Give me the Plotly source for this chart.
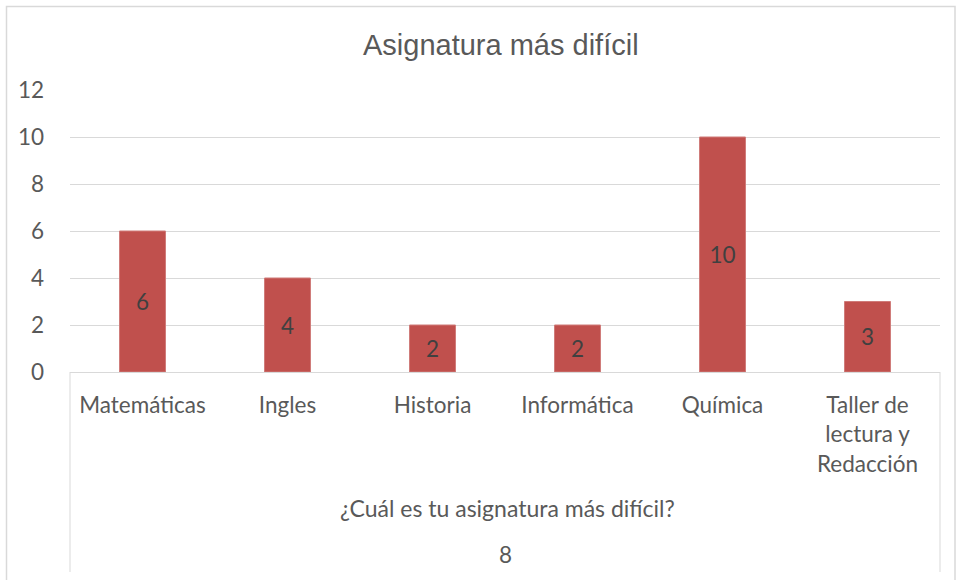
import plotly.graph_objects as go

categories = ["Matemáticas", "Ingles", "Historia", "Informática", "Química",
              "Taller de<br>lectura y<br>Redacción"]
values = [6, 4, 2, 2, 10, 3]
y_ticks = [0, 2, 4, 6, 8, 10, 12]
title_text = "Asignatura más difícil"
group_label = "¿Cuál es tu asignatura más difícil?"
outer_label = "8"

W, H = 956, 580
L, R, T, B = 70, 16, 90, 208
pw, ph = W - L - R, H - T - B

def px(x):
    return (x - L) / pw

def py(y):
    return (H - B - y) / ph

BODY = "Lato, Calibri, Carlito, sans-serif"
TXT = "#595959"
GRID = "#D9D9D9"
FS = 22.5

fig = go.Figure(go.Bar(
    x=categories, y=values, text=values,
    textposition="inside", insidetextanchor="middle",
    textfont=dict(family=BODY, size=FS, color="#404040"),
    marker=dict(color="#C0504D", line=dict(color="#CF7B79", width=1)),
    width=0.317, hoverinfo="skip",
))

fig.update_layout(
    width=W, height=H,
    margin=dict(l=L, r=R, t=T, b=B),
    paper_bgcolor="white", plot_bgcolor="white",
    showlegend=False,
    xaxis=dict(showgrid=False, showline=True, linecolor=GRID, linewidth=1,
               ticks="", tickfont=dict(family=BODY, size=FS, color=TXT),
               ticklabelstandoff=13, fixedrange=True),
    yaxis=dict(range=[0, 12], tickvals=y_ticks, showgrid=True, gridcolor=GRID,
               gridwidth=1, zeroline=False, showline=False, ticks="",
               tickfont=dict(family=BODY, size=FS, color=TXT),
               ticklabelstandoff=25, fixedrange=True),
    annotations=[
        dict(text=title_text, x=px(501), y=py(45), xref="paper", yref="paper",
             showarrow=False, xanchor="center", yanchor="middle",
             font=dict(family="Liberation Sans, Arial", size=29, color=TXT)),
        dict(text=group_label, x=px(507), y=py(508), xref="paper", yref="paper",
             showarrow=False, xanchor="center", yanchor="middle",
             font=dict(family=BODY, size=23, color=TXT)),
        dict(text=outer_label, x=px(505), y=py(554), xref="paper", yref="paper",
             showarrow=False, xanchor="center", yanchor="middle",
             font=dict(family=BODY, size=FS, color=TXT)),
    ],
    shapes=[
        dict(type="line", xref="paper", yref="paper", x0=0, x1=0, y0=0, y1=py(572),
             line=dict(color=GRID, width=1)),
        dict(type="line", xref="paper", yref="paper", x0=1, x1=1, y0=0, y1=py(572),
             line=dict(color=GRID, width=1)),
        dict(type="rect", xref="paper", yref="paper", x0=px(6.5), x1=px(955),
             y0=py(600), y1=py(6.5), line=dict(color=GRID, width=1.5), layer="below"),
    ],
)

fig.write_html("out.html", config={"displayModeBar": False},
               post_script="document.body.style.margin='0';document.body.style.overflow='hidden';")
